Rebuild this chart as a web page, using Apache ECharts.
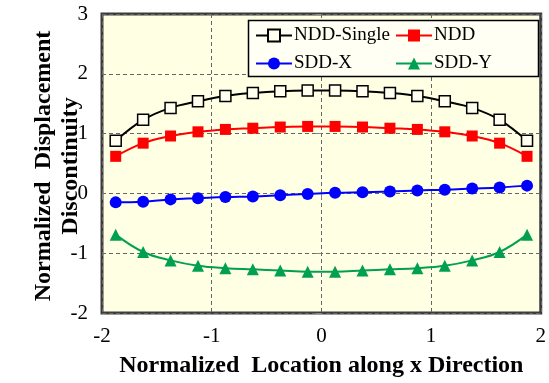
<!DOCTYPE html>
<html><head><meta charset="utf-8">
<script src="https://cdn.jsdelivr.net/npm/echarts@6/dist/echarts.min.js"></script>
<style>html,body{margin:0;padding:0;background:#fff}#c{width:549px;height:383px}</style>
</head><body><div id="c"></div>
<script>
const xPos = [-1.875,-1.625,-1.375,-1.125,-0.875,-0.625,-0.375,-0.125,0.125,0.375,0.625,0.875,1.125,1.375,1.625,1.875];
const nddSingle = [0.88,1.23,1.43,1.54,1.63,1.68,1.71,1.72,1.72,1.71,1.68,1.63,1.54,1.43,1.23,0.88];
const ndd = [0.62,0.84,0.96,1.03,1.07,1.09,1.11,1.12,1.12,1.11,1.09,1.07,1.03,0.96,0.84,0.62];
const sddX = [-0.15,-0.14,-0.10,-0.08,-0.06,-0.05,-0.03,-0.01,0.01,0.02,0.03,0.05,0.06,0.08,0.10,0.13];
const sddY = [-0.69,-0.98,-1.12,-1.21,-1.25,-1.27,-1.29,-1.31,-1.31,-1.29,-1.27,-1.25,-1.21,-1.12,-0.98,-0.69];
const xTicks = [-2,-1,0,1,2];
const yTicks = [-2,-1,0,1,2,3];

const FONT = 'Liberation Serif';
const pairs = arr => arr.map((v,i)=>[xPos[i], v]);
const chart = echarts.init(document.getElementById('c'), null, {renderer:'canvas'});

function legendAt(name, left, top){
  return {data:[name], left:left, top:top, itemWidth:36, itemHeight:15, itemGap:0, z:10,
    padding:0, textStyle:{fontFamily:FONT, fontSize:19, color:'#000', padding:[0,0,0,-3]},
    selectedMode:false};
}

const option = {
  animation:false,
  backgroundColor:'#fff',
  textStyle:{fontFamily:FONT},
  grid:{left:102, right:6, top:14, bottom:68, show:true, backgroundColor:'#FFFFE4', borderColor:'#3c3c3c', borderWidth:3},
  xAxis:{type:'value', min:xTicks[0], max:xTicks[xTicks.length-1], interval:1,
    axisLine:{show:false},
    axisTick:{show:true, length:6, lineStyle:{color:'#888'}},
    axisLabel:{fontFamily:FONT, fontSize:21, color:'#000', margin:13},
    splitLine:{show:true, lineStyle:{type:[4,3], color:'#666', width:1}},
    name:'Normalized  Location along x Direction', nameLocation:'middle', nameGap:41,
    nameTextStyle:{fontFamily:FONT, fontSize:24, fontWeight:'bold', color:'#000'}},
  yAxis:{type:'value', min:yTicks[0], max:yTicks[yTicks.length-1], interval:1,
    axisLine:{show:false},
    axisTick:{show:true, length:6, lineStyle:{color:'#888'}},
    axisLabel:{fontFamily:FONT, fontSize:21, color:'#000', margin:14},
    splitLine:{show:true, lineStyle:{type:[4,3], color:'#666', width:1}}},
  graphic:[
    {type:'text', x:57, y:166, rotation:Math.PI/2, z:10,
     style:{text:'Normalized  Displacement\nDiscontinuity', fontFamily:FONT, fontSize:24, fontWeight:'bold', fill:'#000', align:'center', verticalAlign:'middle', lineHeight:27}},
    {type:'rect', shape:{x:248.5, y:20.5, width:290, height:56}, style:{fill:'#FFFFF4', stroke:'#000', lineWidth:1.5}, z:3}
  ],
  legend:[
    legendAt('NDD-Single', 255, 26),
    legendAt('NDD', 395, 26),
    legendAt('SDD-X', 255, 54),
    legendAt('SDD-Y', 395, 54)
  ],
  series:[
    {name:'NDD-Single', type:'line', smooth:0.4, data:pairs(nddSingle), symbol:'rect', symbolSize:11,
     itemStyle:{color:'#FFFFF0', borderColor:'#000', borderWidth:1.5}, lineStyle:{color:'#000', width:2}, z:4},
    {name:'NDD', type:'line', smooth:0.4, data:pairs(ndd), symbol:'rect', symbolSize:11,
     itemStyle:{color:'#FF0000'}, lineStyle:{color:'#FF0000', width:2}},
    {name:'SDD-X', type:'line', smooth:0.4, data:pairs(sddX), symbol:'circle', symbolSize:12,
     itemStyle:{color:'#0000FF'}, lineStyle:{color:'#0000FF', width:2}},
    {name:'SDD-Y', type:'line', smooth:0.4, data:pairs(sddY), symbol:'triangle', symbolSize:12,
     itemStyle:{color:'#00A050'}, lineStyle:{color:'#00A050', width:2}}
  ]
};
chart.setOption(option);
</script></body></html>
